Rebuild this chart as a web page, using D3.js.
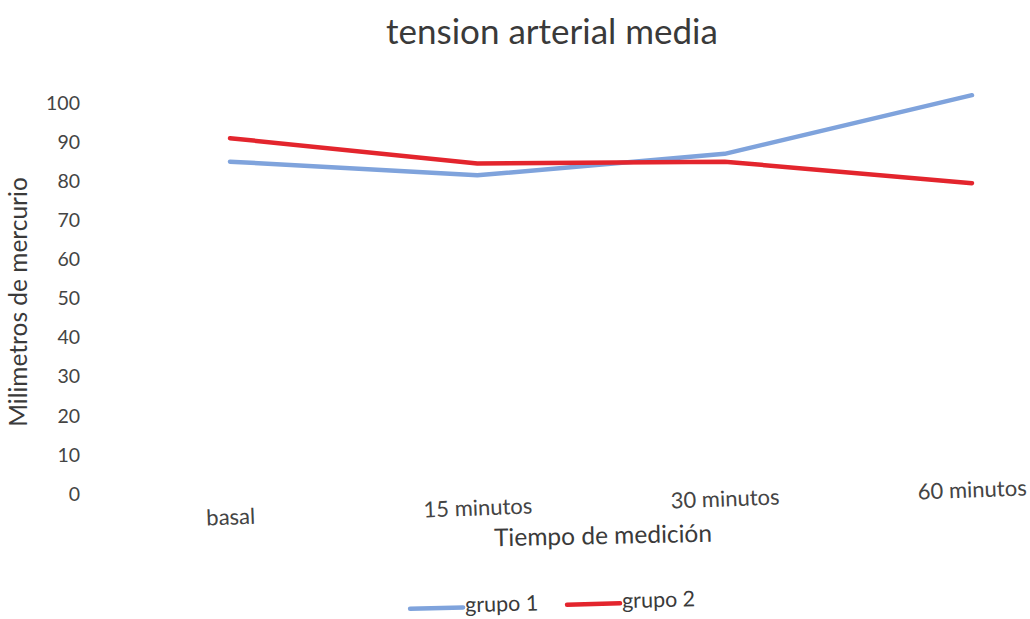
<!DOCTYPE html>
<html>
<head>
<meta charset="utf-8">
<script src="https://cdn.jsdelivr.net/npm/d3@7"></script>
<style>
  html, body { margin: 0; padding: 0; background: #fff; }
  svg { display: block; font-family: Lato, "Open Sans", sans-serif; }
</style>
</head>
<body>
<svg id="chart" width="1030" height="619"></svg>
<script>
// Mean arterial pressure (mmHg) at each measurement time
const categories = ["basal", "15 minutos", "30 minutos", "60 minutos"];
const grupo1 = [85, 81.5, 87, 102];
const grupo2 = [91, 84.5, 85, 79.5];
const yTicks = [0, 10, 20, 30, 40, 50, 60, 70, 80, 90, 100];
const seriesNames = ["grupo 1", "grupo 2"];

const series = [
  { name: seriesNames[0], values: grupo1, color: "#7fa3dc" },
  { name: seriesNames[1], values: grupo2, color: "#e3252d" }
];

const svg = d3.select("#chart");
const textColor = "#3a3a3a";

const x = d3.scalePoint().domain(categories).range([230, 972]).padding(0);
const y = d3.scaleLinear().domain([0, 100]).range([494, 103]);

// Title
svg.append("text")
  .attr("x", 552).attr("y", 44)
  .attr("text-anchor", "middle")
  .attr("font-size", 35)
  .attr("fill", textColor)
  .text("tension arterial media");

// Y axis: labels only, no line or ticks
const yAxis = svg.append("g")
  .attr("transform", "translate(80,0)")
  .call(d3.axisLeft(y).tickValues(yTicks).tickSize(0).tickPadding(0));
yAxis.select(".domain").remove();
yAxis.selectAll("text")
  .attr("font-size", 19.5)
  .attr("font-family", "Lato, 'Open Sans', sans-serif")
  .attr("fill", "#444");

// Y axis title
svg.append("text")
  .attr("transform", "translate(27,302) rotate(-90)")
  .attr("text-anchor", "middle")
  .attr("font-size", 24.5)
  .attr("fill", textColor)
  .text("Milimetros de mercurio");

// X axis: category labels, slightly skewed
const xAxis = svg.append("g")
  .attr("transform", "rotate(-2.1, 600, 504) translate(0,504)")
  .call(d3.axisBottom(x).tickSize(0).tickPadding(0));
xAxis.select(".domain").remove();
xAxis.selectAll("text")
  .attr("dy", "0.32em")
  .attr("font-size", 22)
  .attr("font-family", "Lato, 'Open Sans', sans-serif")
  .attr("fill", "#444");

// X axis title
svg.append("text")
  .attr("transform", "rotate(-1.2, 603, 536)")
  .attr("x", 603).attr("y", 544)
  .attr("text-anchor", "middle")
  .attr("font-size", 24.5)
  .attr("fill", textColor)
  .text("Tiempo de medición");

// Series lines
const line = d3.line()
  .x((d, i) => x(categories[i]))
  .y(d => y(d));

svg.append("g").selectAll("path")
  .data(series)
  .join("path")
  .attr("d", d => line(d.values))
  .attr("fill", "none")
  .attr("stroke", d => d.color)
  .attr("stroke-width", 4.5)
  .attr("stroke-linejoin", "round")
  .attr("stroke-linecap", "round");

// Legend
const legend = svg.append("g").attr("transform", "rotate(-1.5, 555, 603)");
const legendItems = legend.selectAll("g")
  .data(series)
  .join("g")
  .attr("transform", (d, i) => `translate(${410 + i * 157},603)`);
legendItems.append("line")
  .attr("x1", 0).attr("x2", 53)
  .attr("y1", 2).attr("y2", 2)
  .attr("stroke", d => d.color)
  .attr("stroke-width", 4.5)
  .attr("stroke-linecap", "round");
legendItems.append("text")
  .attr("x", 55).attr("y", 0)
  .attr("dy", "0.32em")
  .attr("font-size", 21.5)
  .attr("fill", textColor)
  .text(d => d.name);
</script>
</body>
</html>
